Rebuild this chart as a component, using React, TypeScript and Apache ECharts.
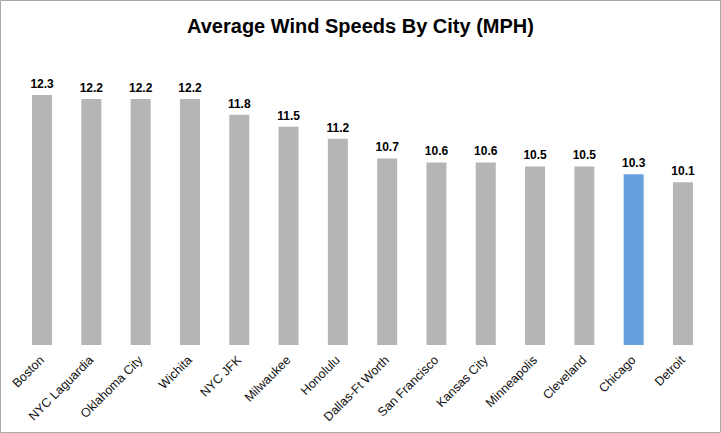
import React, { useEffect, useRef } from "react";
import * as echarts from "echarts";

const cities = [
  "Boston",
  "NYC Laguardia",
  "Oklahoma City",
  "Wichita",
  "NYC JFK",
  "Milwaukee",
  "Honolulu",
  "Dallas-Ft Worth",
  "San Francisco",
  "Kansas City",
  "Minneapolis",
  "Cleveland",
  "Chicago",
  "Detroit",
];
const speeds = [12.3, 12.2, 12.2, 12.2, 11.8, 11.5, 11.2, 10.7, 10.6, 10.6, 10.5, 10.5, 10.3, 10.1];
const highlightCity = "Chicago";

const GRAY = "#b5b5b5";
const BLUE = "#66a0dd";

export default function App() {
  const ref = useRef<HTMLDivElement>(null);
  useEffect(() => {
    if (!ref.current) return;
    const chart = echarts.init(ref.current, null, { renderer: "svg" });
    chart.setOption({
      animation: false,
      backgroundColor: "#ffffff",
      title: {
        text: "Average Wind Speeds By City (MPH)",
        left: "center",
        top: 11,
        textStyle: {
          fontFamily: "Liberation Sans, Arial, sans-serif",
          fontSize: 20,
          fontWeight: "bold",
          color: "#000000",
        },
      },
      graphic: [
        {
          type: "rect",
          shape: { x: 0.5, y: 0.5, width: 720, height: 432 },
          style: { fill: "none", stroke: "#a8a8a8", lineWidth: 1 },
          silent: true,
        },
      ],
      grid: { left: 17.4, right: 13.4, top: 27.5, bottom: 88, containLabel: false },
      xAxis: {
        type: "category",
        data: cities,
        axisLine: { show: false },
        axisTick: { show: false },
        axisLabel: {
          rotate: 45,
          interval: 0,
          margin: 13,
          fontFamily: "Liberation Sans, Arial, sans-serif",
          fontSize: 12.5,
          color: "#111111",
        },
      },
      yAxis: {
        type: "value",
        min: 6,
        max: 14,
        show: false,
        splitLine: { show: false },
      },
      series: [
        {
          type: "bar",
          barWidth: 20,
          data: speeds.map((v, i) => ({
            value: v,
            itemStyle: { color: cities[i] === highlightCity ? BLUE : GRAY },
          })),
          label: {
            show: true,
            position: "top",
            distance: 5,
            fontFamily: "Liberation Sans, Arial, sans-serif",
            fontSize: 12,
            fontWeight: "bold",
            color: "#000000",
            formatter: (p: any) => Number(p.value).toFixed(1),
          },
        },
      ],
    });
    return () => chart.dispose();
  }, []);
  return (
    <div
      ref={ref}
      style={{ position: "absolute", left: 0, top: 0, width: 721, height: 433 }}
    />
  );
}
